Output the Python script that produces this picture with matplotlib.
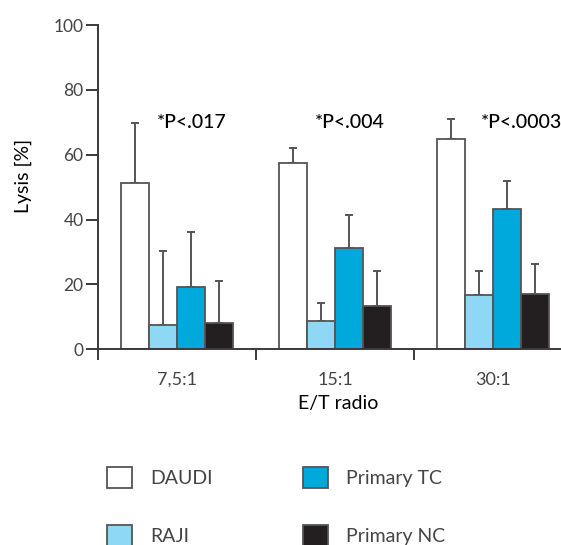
import matplotlib.pyplot as plt
import numpy as np

plt.rcParams['font.family'] = ['Lato', 'DejaVu Sans']

ratios = ['7,5:1', '15:1', '30:1']
series = ['DAUDI', 'RAJI', 'Primary TC', 'Primary NC']
colores = ['#ffffff', '#8fd8f5', '#00a9dc', '#231f20']

# media y extremo superior de la barra de error
daudi = [51.3, 57.4, 64.9]
raji = [7.5, 8.8, 16.6]
tc = [19.3, 31.1, 43.3]
nc = [8.2, 13.4, 17.1]
daudi_top = [69.9, 62.2, 71.0]
raji_top = [30.2, 14.4, 24.2]
tc_top = [36.1, 41.3, 52.0]
nc_top = [21.1, 24.1, 26.4]
pvalores = ['*P<.017', '*P<.004', '*P<.0003']
p_y = 69.9

medias = [daudi, raji, tc, nc]
topes = [daudi_top, raji_top, tc_top, nc_top]

fig = plt.figure(figsize=(5.61, 5.45), dpi=100)
ax = fig.add_axes([98 / 561, 1 - 349.3 / 545, 1 - 98 / 561, (349.3 - 25) / 545])

ancho = 28 / 158
x = np.arange(len(ratios))
gris = '#555555'
barras = []
for i in range(4):
    pos = x + (i - 1.5) * ancho
    err = np.array(topes[i]) - np.array(medias[i])
    b = ax.bar(pos, medias[i], ancho, color=colores[i], edgecolor=gris,
               linewidth=1.3, zorder=2)
    ax.errorbar(pos, medias[i], yerr=[np.zeros(3), err], fmt='none',
                ecolor=gris, elinewidth=1.4, capsize=3, capthick=1.4, zorder=1)
    barras.append(b)

desplaz = [-0.13, -0.13, -0.075]
for i, p in enumerate(pvalores):
    ax.text(x[i] + desplaz[i], p_y, p, fontsize=14, fontweight='medium',
            color='black', va='center', ha='left', clip_on=False)

ax.set_xlim(-0.5, 2.43)
ax.set_ylim(0, 100)
ax.spines['top'].set_visible(False)
ax.spines['right'].set_visible(False)
for s in ['left', 'bottom']:
    ax.spines[s].set_color('#3a3a3a')
    ax.spines[s].set_linewidth(1.4)

ax.set_yticks([0, 20, 40, 60, 80, 100])
ax.tick_params(axis='y', direction='out', length=8.5, width=1.4, color='#3a3a3a',
               labelsize=12.5, labelcolor='#444444', pad=2)
ax.set_xticks(x)
ax.set_xticklabels(ratios)
ax.tick_params(axis='x', length=0, labelsize=13, labelcolor='#444444', pad=16)
ax.set_xticks([-0.5, 0.5, 1.5], minor=True)
ax.tick_params(axis='x', which='minor', direction='out', length=8, width=1.4,
               color='#3a3a3a')

ax.set_ylabel('Lysis [%]', fontsize=14, color='black')
ax.yaxis.set_label_coords(-66 / 463, (349.3 - 176) / 324.3)
ax.set_xlabel('E/T radio', fontsize=14, color='black')
ax.xaxis.set_label_coords((338 - 98) / 463, -(395 - 349.3) / 324.3)

leg = fig.legend(barras, series, loc='upper left', ncol=2,
                 bbox_to_anchor=(107 / 561, 1 - 467 / 545), frameon=False,
                 borderpad=0, borderaxespad=0, fontsize=14,
                 handlelength=1.3, handleheight=1.3, handletextpad=0.95,
                 columnspacing=4.6, labelspacing=1.9, labelcolor='#444444')

fig.savefig('out.png', dpi=100)
